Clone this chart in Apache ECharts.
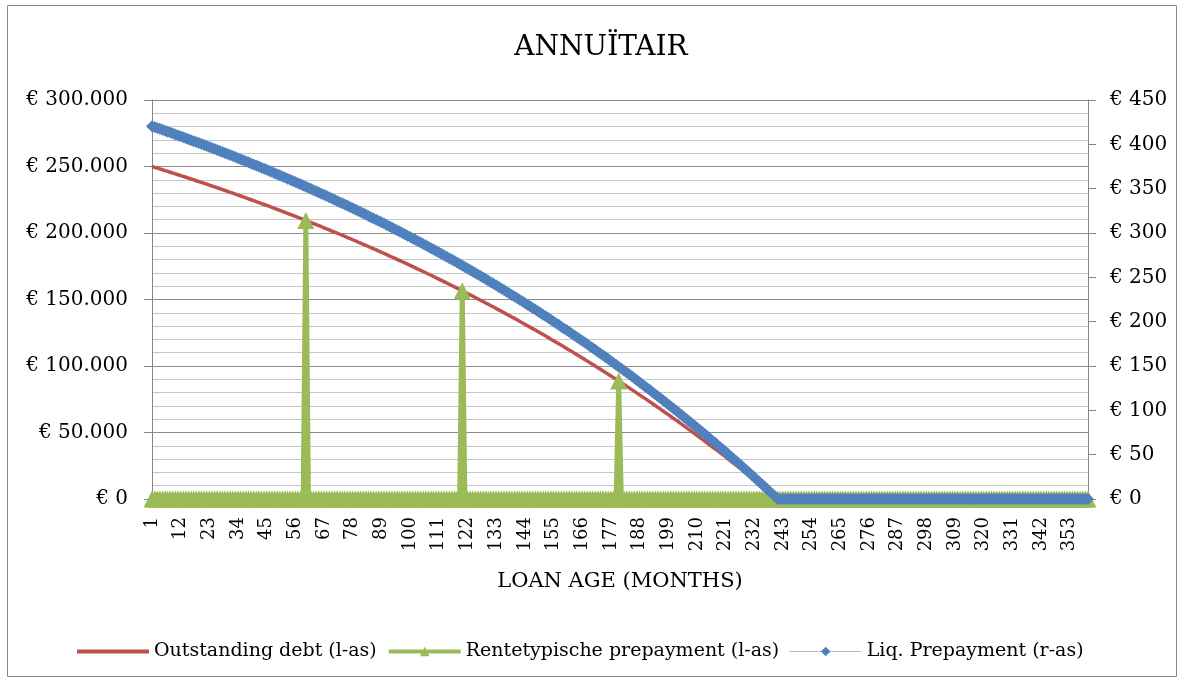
<!DOCTYPE html>
<html>
<head>
<meta charset="utf-8">
<title>Annuïtair</title>
<script src="https://cdn.jsdelivr.net/npm/echarts@6/dist/echarts.min.js"></script>
<style>
  html, body { margin: 0; padding: 0; background: #fff; }
  #chart { width: 1183px; height: 682px; }
</style>
</head>
<body>
<div id="chart"></div>
<script>
// Loan age in months, 1..360
const months = Array.from({ length: 360 }, (_, i) => String(i + 1));

// Outstanding debt per month (euro, left axis)
const outstandingDebt = [
  250000, 249392, 248781, 248168, 247552, 246934, 246312, 245689, 245063, 244434, 243802, 243168,
  242532, 241892, 241250, 240606, 239958, 239308, 238656, 238000, 237342, 236681, 236017, 235351,
  234681, 234009, 233335, 232657, 231976, 231293, 230607, 229918, 229226, 228531, 227833, 227133,
  226429, 225723, 225014, 224301, 223586, 222868, 222146, 221422, 220695, 219965, 219231, 218495,
  217755, 217013, 216267, 215518, 214766, 214011, 213253, 212492, 211727, 210960, 210189, 209415,
  208637, 207857, 207073, 206286, 205495, 204702, 203905, 203105, 202301, 201494, 200684, 199870,
  199053, 198232, 197408, 196581, 195750, 194916, 194078, 193237, 192392, 191544, 190692, 189837,
  188978, 188116, 187250, 186380, 185507, 184630, 183749, 182865, 181977, 181085, 180190, 179291,
  178388, 177481, 176571, 175657, 174739, 173817, 172891, 171962, 171028, 170091, 169150, 168205,
  167256, 166303, 165346, 164385, 163420, 162451, 161478, 160501, 159520, 158535, 157545, 156552,
  155554, 154552, 153547, 152536, 151522, 150504, 149481, 148454, 147422, 146387, 145347, 144303,
  143254, 142201, 141144, 140082, 139016, 137945, 136870, 135790, 134706, 133617, 132524, 131427,
  130324, 129217, 128106, 126990, 125869, 124744, 123614, 122479, 121339, 120195, 119046, 117892,
  116733, 115570, 114401, 113228, 112050, 110867, 109679, 108486, 107288, 106086, 104878, 103665,
  102447, 101224, 99996, 98762, 97524, 96281, 95032, 93778, 92519, 91254, 89985, 88710,
  87430, 86144, 84853, 83557, 82255, 80948, 79635, 78317, 76993, 75664, 74330, 72990,
  71644, 70292, 68935, 67573, 66204, 64830, 63451, 62065, 60674, 59277, 57874, 56465,
  55051, 53630, 52204, 50771, 49333, 47889, 46438, 44982, 43519, 42051, 40576, 39095,
  37608, 36115, 34616, 33110, 31598, 30080, 28555, 27024, 25487, 23943, 22393, 20837,
  19274, 17704, 16128, 14545, 12956, 11360, 9758, 8148, 6532, 4910, 3280, 1644,
  0,0,0,0,0,0,0,0,0,0,0,0,0,0,0,0,0,0,0,0,
  0,0,0,0,0,0,0,0,0,0,0,0,0,0,0,0,0,0,0,0,
  0,0,0,0,0,0,0,0,0,0,0,0,0,0,0,0,0,0,0,0,
  0,0,0,0,0,0,0,0,0,0,0,0,0,0,0,0,0,0,0,0,
  0,0,0,0,0,0,0,0,0,0,0,0,0,0,0,0,0,0,0,0,
  0,0,0,0,0,0,0,0,0,0,0,0,0,0,0,0,0,0,0,0
];

// Interest-reset prepayments (euro, left axis): full repayment at months 60, 120 and 180
const rentetypischePrepayment = [
  0,0,0,0,0,0,0,0,0,0,0,0,0,0,0,0,0,0,0,0,
  0,0,0,0,0,0,0,0,0,0,0,0,0,0,0,0,0,0,0,0,
  0,0,0,0,0,0,0,0,0,0,0,0,0,0,0,0,0,0,0,209415,
  0,0,0,0,0,0,0,0,0,0,0,0,0,0,0,0,0,0,0,0,
  0,0,0,0,0,0,0,0,0,0,0,0,0,0,0,0,0,0,0,0,
  0,0,0,0,0,0,0,0,0,0,0,0,0,0,0,0,0,0,0,156552,
  0,0,0,0,0,0,0,0,0,0,0,0,0,0,0,0,0,0,0,0,
  0,0,0,0,0,0,0,0,0,0,0,0,0,0,0,0,0,0,0,0,
  0,0,0,0,0,0,0,0,0,0,0,0,0,0,0,0,0,0,0,88710,
  0,0,0,0,0,0,0,0,0,0,0,0,0,0,0,0,0,0,0,0,
  0,0,0,0,0,0,0,0,0,0,0,0,0,0,0,0,0,0,0,0,
  0,0,0,0,0,0,0,0,0,0,0,0,0,0,0,0,0,0,0,0,
  0,0,0,0,0,0,0,0,0,0,0,0,0,0,0,0,0,0,0,0,
  0,0,0,0,0,0,0,0,0,0,0,0,0,0,0,0,0,0,0,0,
  0,0,0,0,0,0,0,0,0,0,0,0,0,0,0,0,0,0,0,0,
  0,0,0,0,0,0,0,0,0,0,0,0,0,0,0,0,0,0,0,0,
  0,0,0,0,0,0,0,0,0,0,0,0,0,0,0,0,0,0,0,0,
  0,0,0,0,0,0,0,0,0,0,0,0,0,0,0,0,0,0,0,0
];

// Liquidity-driven prepayment per month (euro, right axis)
const liqPrepayment = [
  420.5, 419.5, 418.5, 417.5, 416.4, 415.4, 414.3, 413.3, 412.2, 411.2, 410.1, 409.1,
  408.0, 406.9, 405.8, 404.7, 403.6, 402.6, 401.5, 400.4, 399.2, 398.1, 397.0, 395.9,
  394.8, 393.6, 392.5, 391.4, 390.2, 389.1, 387.9, 386.8, 385.6, 384.4, 383.3, 382.1,
  380.9, 379.7, 378.5, 377.3, 376.1, 374.9, 373.7, 372.5, 371.2, 370.0, 368.8, 367.5,
  366.3, 365.0, 363.8, 362.5, 361.3, 360.0, 358.7, 357.4, 356.1, 354.9, 353.6, 352.3,
  351.0, 349.6, 348.3, 347.0, 345.7, 344.3, 343.0, 341.6, 340.3, 338.9, 337.6, 336.2,
  334.8, 333.5, 332.1, 330.7, 329.3, 327.9, 326.5, 325.1, 323.6, 322.2, 320.8, 319.3,
  317.9, 316.4, 315.0, 313.5, 312.1, 310.6, 309.1, 307.6, 306.1, 304.6, 303.1, 301.6,
  300.1, 298.5, 297.0, 295.5, 293.9, 292.4, 290.8, 289.3, 287.7, 286.1, 284.5, 282.9,
  281.4, 279.8, 278.1, 276.5, 274.9, 273.3, 271.6, 270.0, 268.3, 266.7, 265.0, 263.3,
  261.7, 260.0, 258.3, 256.6, 254.9, 253.2, 251.4, 249.7, 248.0, 246.2, 244.5, 242.7,
  241.0, 239.2, 237.4, 235.6, 233.8, 232.0, 230.2, 228.4, 226.6, 224.8, 222.9, 221.1,
  219.2, 217.4, 215.5, 213.6, 211.7, 209.8, 207.9, 206.0, 204.1, 202.2, 200.3, 198.3,
  196.4, 194.4, 192.4, 190.5, 188.5, 186.5, 184.5, 182.5, 180.5, 178.5, 176.4, 174.4,
  172.3, 170.3, 168.2, 166.1, 164.1, 162.0, 159.9, 157.8, 155.6, 153.5, 151.4, 149.2,
  147.1, 144.9, 142.7, 140.6, 138.4, 136.2, 134.0, 131.7, 129.5, 127.3, 125.0, 122.8,
  120.5, 118.2, 116.0, 113.7, 111.4, 109.1, 106.7, 104.4, 102.1, 99.7, 97.4, 95.0,
  92.6, 90.2, 87.8, 85.4, 83.0, 80.6, 78.1, 75.7, 73.2, 70.7, 68.3, 65.8,
  63.3, 60.7, 58.2, 55.7, 53.2, 50.6, 48.0, 45.5, 42.9, 40.3, 37.7, 35.1,
  32.4, 29.8, 27.1, 24.5, 21.8, 19.1, 16.4, 13.7, 11.0, 8.3, 5.5, 2.8,
  0,0,0,0,0,0,0,0,0,0,0,0,0,0,0,0,0,0,0,0,
  0,0,0,0,0,0,0,0,0,0,0,0,0,0,0,0,0,0,0,0,
  0,0,0,0,0,0,0,0,0,0,0,0,0,0,0,0,0,0,0,0,
  0,0,0,0,0,0,0,0,0,0,0,0,0,0,0,0,0,0,0,0,
  0,0,0,0,0,0,0,0,0,0,0,0,0,0,0,0,0,0,0,0,
  0,0,0,0,0,0,0,0,0,0,0,0,0,0,0,0,0,0,0,0
];

const FONT = '"DejaVu Serif", "Liberation Serif", serif';
const AXIS_GREY = '#868686';
const RED = '#C0504D';
const GREEN = '#9BBB59';
const BLUE = '#4F81BD';

function euroThousands(v) {
  return '€ ' + String(v).replace(/\B(?=(\d{3})+(?!\d))/g, '.');
}

const chart = echarts.init(document.getElementById('chart'), null, { renderer: 'canvas' });

chart.setOption({
  animation: false,
  backgroundColor: '#ffffff',
  textStyle: { fontFamily: FONT, color: '#000' },
  graphic: [{
    type: 'rect',
    shape: { x: 7.5, y: 5.5, width: 1169, height: 671 },
    style: { fill: 'none', stroke: AXIS_GREY, lineWidth: 1 },
    silent: true,
    z: -10
  }],
  title: {
    text: 'ANNUÏTAIR',
    left: 596,
    textAlign: 'center',
    top: 29,
    textStyle: { fontFamily: FONT, fontSize: 28, fontWeight: 'normal', color: '#000' }
  },
  legend: {
    left: 75,
    top: 642,
    padding: 0,
    itemWidth: 72,
    itemHeight: 12,
    itemGap: 10,
    textStyle: { fontFamily: FONT, fontSize: 19, color: '#000' },
    data: [
      { name: 'Outstanding debt (l-as)', itemStyle: { opacity: 0 }, lineStyle: { width: 4, color: RED } },
      { name: 'Rentetypische prepayment (l-as)', lineStyle: { width: 4, color: GREEN } },
      { name: 'Liq. Prepayment (r-as)', lineStyle: { width: 1, color: BLUE, type: 'dotted' } }
    ]
  },
  grid: { left: 152, right: 95, top: 100, bottom: 183, containLabel: false },
  xAxis: {
    type: 'category',
    data: months,
    boundaryGap: false,
    name: 'LOAN AGE (MONTHS)',
    nameLocation: 'middle',
    nameGap: 72,
    nameTextStyle: { fontFamily: FONT, fontSize: 21, color: '#000' },
    axisLine: { lineStyle: { color: AXIS_GREY } },
    axisTick: { show: false },
    axisLabel: {
      interval: 10,
      rotate: 90,
      margin: 18,
      fontFamily: FONT,
      fontSize: 18,
      color: '#000'
    },
    splitLine: { show: false }
  },
  yAxis: [{
    type: 'value',
    min: 0,
    max: 300000,
    interval: 50000,
    position: 'left',
    axisLine: { show: true, lineStyle: { color: AXIS_GREY } },
    axisTick: { show: true, length: 8, lineStyle: { color: AXIS_GREY } },
    axisLabel: {
      formatter: euroThousands,
      margin: 24,
      fontFamily: FONT,
      fontSize: 20,
      color: '#000'
    },
    splitLine: { show: true, lineStyle: { color: '#8c8c8c', width: 1 } },
    minorTick: { show: false, splitNumber: 5 },
    minorSplitLine: { show: true, lineStyle: { color: '#c6c6c6', width: 1 } }
  }, {
    type: 'value',
    min: 0,
    max: 450,
    interval: 50,
    position: 'right',
    axisLine: { show: true, lineStyle: { color: AXIS_GREY } },
    axisTick: { show: true, length: 8, lineStyle: { color: AXIS_GREY } },
    axisLabel: {
      formatter: v => '€ ' + v,
      margin: 22,
      fontFamily: FONT,
      fontSize: 20,
      color: '#000'
    },
    splitLine: { show: false }
  }],
  series: [{
    name: 'Outstanding debt (l-as)',
    type: 'line',
    yAxisIndex: 0,
    data: outstandingDebt,
    symbol: 'none',
    color: RED,
    lineStyle: { color: RED, width: 3.5 },
    z: 2
  }, {
    name: 'Rentetypische prepayment (l-as)',
    type: 'line',
    yAxisIndex: 0,
    data: rentetypischePrepayment,
    symbol: 'triangle',
    symbolSize: 17,
    showAllSymbol: true,
    clip: false,
    color: GREEN,
    itemStyle: { color: GREEN },
    lineStyle: { color: GREEN, width: 5 },
    z: 3
  }, {
    name: 'Liq. Prepayment (r-as)',
    type: 'line',
    yAxisIndex: 1,
    data: liqPrepayment,
    symbol: 'diamond',
    symbolSize: 12,
    showAllSymbol: true,
    clip: false,
    color: BLUE,
    itemStyle: { color: BLUE },
    lineStyle: { color: BLUE, width: 1, type: 'dotted' },
    z: 4
  }]
});
</script>
</body>
</html>
